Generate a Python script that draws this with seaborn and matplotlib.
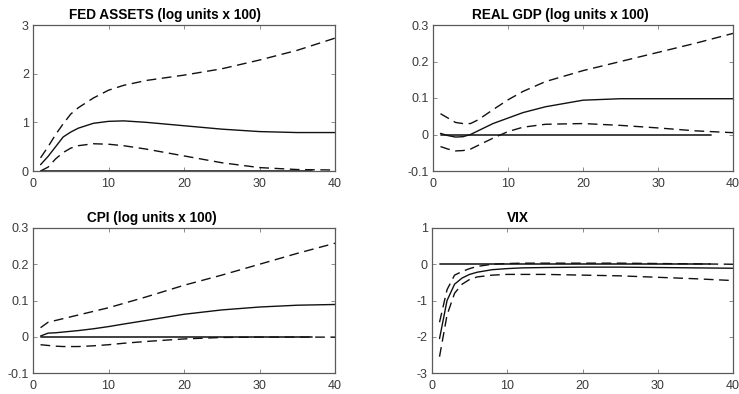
import matplotlib
matplotlib.use("Agg")
import matplotlib.pyplot as plt
import seaborn as sns
import numpy as np

sns.set_theme(style="white")
plt.rcParams['font.family'] = ['Liberation Sans', 'DejaVu Sans']

# ---- data ----
x_pts = [1, 2, 3, 4, 5, 6, 8, 10, 12, 15, 20, 25, 30, 35, 40]

fed_mid = [0.13, 0.30, 0.50, 0.70, 0.80, 0.88, 0.98, 1.02, 1.03, 1.00, 0.93, 0.86, 0.81, 0.79, 0.79]
fed_up = [0.27, 0.50, 0.75, 0.97, 1.17, 1.30, 1.50, 1.66, 1.76, 1.86, 1.97, 2.10, 2.28, 2.48, 2.73]
fed_lo = [0.00, 0.08, 0.25, 0.38, 0.47, 0.52, 0.56, 0.55, 0.52, 0.45, 0.31, 0.17, 0.07, 0.03, 0.02]

gdp_mid = [0.003, -0.003, -0.007, -0.006, 0.000, 0.010, 0.030, 0.045, 0.060, 0.076, 0.094, 0.098, 0.098, 0.098, 0.098]
gdp_up = [0.057, 0.045, 0.033, 0.030, 0.030, 0.040, 0.068, 0.095, 0.118, 0.145, 0.175, 0.200, 0.225, 0.250, 0.277]
gdp_lo = [-0.033, -0.040, -0.045, -0.044, -0.040, -0.030, -0.010, 0.008, 0.020, 0.028, 0.030, 0.025, 0.018, 0.010, 0.005]

cpi_mid = [0.002, 0.010, 0.011, 0.013, 0.015, 0.017, 0.022, 0.028, 0.035, 0.045, 0.062, 0.074, 0.082, 0.087, 0.089]
cpi_up = [0.025, 0.040, 0.045, 0.050, 0.055, 0.060, 0.070, 0.080, 0.092, 0.110, 0.142, 0.170, 0.200, 0.230, 0.258]
cpi_lo = [-0.022, -0.024, -0.026, -0.027, -0.027, -0.027, -0.025, -0.022, -0.018, -0.013, -0.006, -0.002, -0.001, -0.001, -0.001]

vix_mid = [-2.05, -1.00, -0.55, -0.38, -0.28, -0.22, -0.15, -0.12, -0.10, -0.09, -0.08, -0.08, -0.09, -0.10, -0.11]
vix_up = [-1.60, -0.70, -0.30, -0.20, -0.12, -0.06, 0.00, 0.02, 0.03, 0.03, 0.03, 0.03, 0.02, 0.01, 0.00]
vix_lo = [-2.55, -1.40, -0.80, -0.55, -0.42, -0.35, -0.30, -0.28, -0.28, -0.28, -0.30, -0.32, -0.36, -0.40, -0.45]

zero_x = [1, 37]
zero_y = [0, 0]

titles = ["FED ASSETS (log units x 100)", "REAL GDP (log units x 100)",
          "CPI (log units x 100)", "VIX"]
title_x = [0.437, 0.423, 0.394, 0.286]
ylims = [(0, 3), (-0.1, 0.3), (-0.1, 0.3), (-3, 1)]
yticks = [[0, 1, 2, 3], [-0.1, 0, 0.1, 0.2, 0.3], [-0.1, 0, 0.1, 0.2, 0.3], [-3, -2, -1, 0, 1]]
ytlabels = [["0", "1", "2", "3"], ["-0.1", "0", "0.1", "0.2", "0.3"],
            ["-0.1", "0", "0.1", "0.2", "0.3"], ["-3", "-2", "-1", "0", "1"]]
xticks = [0, 10, 20, 30, 40]

series = [(fed_mid, fed_up, fed_lo), (gdp_mid, gdp_up, gdp_lo),
          (cpi_mid, cpi_up, cpi_lo), (vix_mid, vix_up, vix_lo)]

W, H = 739, 394
fig = plt.figure(figsize=(W / 100, H / 100), dpi=100)
fig.patch.set_facecolor("white")

boxes = [(33, 25, 335, 171), (433, 25, 733, 171), (33, 228, 335, 373), (432, 228, 733, 373)]

for i, (l, t, r, b) in enumerate(boxes):
    ax = fig.add_axes([l / W, 1 - b / H, (r - l) / W, (b - t) / H])
    mid, up, lo = series[i]
    sns.lineplot(x=zero_x, y=zero_y, ax=ax, color="#333333", linewidth=1.3)
    sns.lineplot(x=x_pts, y=mid, ax=ax, color="#111111", linewidth=1.0)
    sns.lineplot(x=x_pts, y=up, ax=ax, color="#111111", linewidth=1.0, linestyle=(0, (7, 4)))
    sns.lineplot(x=x_pts, y=lo, ax=ax, color="#111111", linewidth=1.0, linestyle=(0, (7, 4)))
    ax.set_xlim(0, 40)
    ax.set_ylim(*ylims[i])
    ax.set_xticks(xticks)
    ax.set_xticklabels([str(v) for v in xticks])
    ax.set_yticks(yticks[i])
    ax.set_yticklabels(ytlabels[i])
    ax.tick_params(direction="in", length=3, width=0.6, colors="#777777",
                   labelcolor="#3a3a3a", labelsize=9, top=True, right=True,
                   bottom=True, left=True)
    ax.tick_params(axis="x", pad=5)
    ax.tick_params(axis="y", pad=3)
    for s in ax.spines.values():
        s.set_color("#5a5a5a")
        s.set_linewidth(0.9)
    ax.set_xlabel("")
    ax.set_ylabel("")
    ax.set_title(titles[i], x=title_x[i], fontsize=9.8, fontweight="bold", pad=4, color="black")

fig.savefig("out.png", dpi=100, facecolor="white")
